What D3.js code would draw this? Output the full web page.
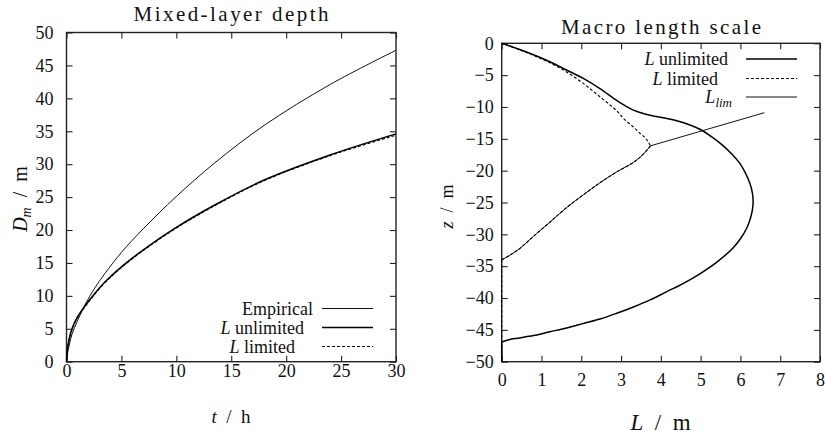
<!DOCTYPE html>
<html>
<head>
<meta charset="utf-8">
<script src="https://cdn.jsdelivr.net/npm/d3@7"></script>
<style>
  html, body { margin: 0; padding: 0; background: #fff; }
  svg { display: block; }
</style>
</head>
<body>
<svg id="chart" width="825" height="440"></svg>
<script>
// ---- Mixed-layer depth: time (h) and depth (m) ----
const hours        = [0, 0.1, 0.25, 0.5, 1, 1.7, 2.5, 3.5, 5, 7, 10, 13.5, 18, 24, 30];
const depthEmpir   = [0, 1.3, 2.5, 4.2, 6.2, 8.7, 11.0, 13.4, 16.6, 20.2, 25.1, 30.2, 35.9, 42.1, 47.3];
const depthUnlim   = [0, 2.0, 3.5, 5.0, 6.8, 8.5, 10.2, 12.1, 14.4, 17.0, 20.4, 23.8, 27.6, 31.4, 34.6];
const depthLimited = [0, 2.0, 3.4, 4.9, 6.7, 8.4, 10.1, 12.0, 14.3, 16.9, 20.3, 23.7, 27.5, 31.3, 34.4];
const depthTicksX  = [0, 5, 10, 15, 20, 25, 30];
const depthTicksY  = [0, 5, 10, 15, 20, 25, 30, 35, 40, 45, 50];

// ---- Macro length scale profiles: L (m) against z (m) ----
const unlimL = [0, 0.4, 0.8, 1.21, 1.63, 2.05, 2.47, 2.85, 3.1, 3.31, 3.6, 3.89, 4.15, 4.4, 4.7, 4.98, 5.28, 5.57, 5.8, 5.99,
                6.12, 6.24, 6.3, 6.32, 6.3, 6.25, 6.16, 6.0, 5.82, 5.4, 4.98, 4.57, 4.15, 3.73, 3.31, 2.89, 2.47, 2.05, 1.63,
                1.21, 0.8, 0.4, 0.2, 0, 0];
const unlimZ = [0, -0.85, -1.8, -2.9, -4.2, -5.5, -7.1, -8.8, -9.8, -10.5, -11.1, -11.5, -11.8, -12.15, -12.75, -13.5, -14.7,
                -16.1, -17.5, -18.9, -20.3, -22.0, -23.5, -24.8, -26.2, -27.5, -29.0, -30.7, -32.1, -34.4, -36.2, -37.7,
                -39.0, -40.3, -41.4, -42.4, -43.3, -44.0, -44.7, -45.3, -45.9, -46.3, -46.5, -46.9, -50];

const limitedL = [0, 0.4, 0.8, 1.21, 1.63, 2.05, 2.47, 2.89, 3.06, 3.3, 3.47, 3.6, 3.68, 3.74,
                  3.56, 3.31, 2.89, 2.47, 2.05, 1.63, 1.21, 0.8, 0.46, 0.2, 0, 0];
const limitedZ = [0, -0.9, -1.9, -3.05, -4.5, -6.3, -8.4, -10.6, -11.8, -13.1, -14.1, -14.8, -15.45, -16.1,
                  -17.4, -18.7, -20.2, -21.9, -23.8, -25.8, -28.1, -30.3, -32.2, -33.3, -34.0, -50];
const limitedBreaks = [13, 24];   // cusp and the foot of the profile

const limL = [0, 0.2, 0.46, 0.8, 1.21, 1.63, 2.05, 2.47, 2.89, 3.31, 3.56, 3.74, 6.6];
const limZ = [-34.0, -33.3, -32.2, -30.3, -28.1, -25.8, -23.8, -21.9, -20.2, -18.7, -17.4, -16.1, -10.9];
const limBreaks = [11];

const lengthTicksX = [0, 1, 2, 3, 4, 5, 6, 7, 8];
const lengthTicksY = [0, -5, -10, -15, -20, -25, -30, -35, -40, -45, -50];

const FONT = "Liberation Serif";
const svg = d3.select("#chart");

// scales
const xD = d3.scaleLinear().domain([0, 30]).range([66.5, 396]);
const yD = d3.scaleLinear().domain([0, 50]).range([361.7, 32.5]);
const xM = d3.scaleLinear().domain([0, 8]).range([501.7, 820]);
const yM = d3.scaleLinear().domain([-50, 0]).range([361.7, 43.3]);

function frame(x, y, tx, ty, padX, padY) {
  const g = svg.append("g");
  const [x0, x1] = x.range(), [y0, y1] = y.range();
  const inner = -6;
  g.append("g").attr("transform", `translate(0,${y0})`)
    .call(d3.axisBottom(x).tickValues(tx).tickSizeInner(inner).tickSizeOuter(0).tickPadding(padX));
  g.append("g").attr("transform", `translate(0,${y1})`)
    .call(d3.axisTop(x).tickValues(tx).tickSizeInner(inner).tickSizeOuter(0).tickFormat(""));
  g.append("g").attr("transform", `translate(${x0},0)`)
    .call(d3.axisLeft(y).tickValues(ty).tickSizeInner(inner).tickSizeOuter(0).tickPadding(padY));
  g.append("g").attr("transform", `translate(${x1},0)`)
    .call(d3.axisRight(y).tickValues(ty).tickSizeInner(inner).tickSizeOuter(0).tickFormat(""));
  g.selectAll("g").attr("font-family", null).attr("font-size", null);
  g.selectAll(".domain").remove();
  g.selectAll(".tick line").attr("stroke", "#222").attr("stroke-width", 1.1);
  g.selectAll(".tick text").style("font-family", FONT).style("font-size", "18px").attr("fill", "#111");
  g.append("rect")
    .attr("x", x0).attr("y", y1).attr("width", x1 - x0).attr("height", y0 - y1)
    .attr("fill", "none").attr("stroke", "#222").attr("stroke-width", 1.4);
}

frame(xD, yD, depthTicksX, depthTicksY, 2.5, 13);
frame(xM, yM, lengthTicksX, lengthTicksY, 12, 8);

const styles = {
  empir:   { stroke: "#111", width: 1.0, dash: null },
  unlim:   { stroke: "#000", width: 1.5, dash: null },
  limited: { stroke: "#000", width: 1.1, dash: "3,2" },
  lim:     { stroke: "#111", width: 1.0, dash: null }
};
function styled(sel, s) {
  return sel.attr("fill", "none").attr("stroke", s.stroke).attr("stroke-width", s.width)
    .attr("stroke-dasharray", s.dash);
}

// ---- left panel curves ----
const lineD = d3.line().x(d => xD(d[0])).y(d => yD(d[1])).curve(d3.curveCatmullRom.alpha(0.5));
const series = vals => hours.map((t, i) => [t, vals[i]]);

styled(svg.append("path").attr("d", lineD(series(depthEmpir))), styles.empir);
styled(svg.append("path").attr("d", lineD(series(depthUnlim))), styles.unlim);
styled(svg.append("path").attr("d", lineD(series(depthLimited))), styles.limited);

// ---- right panel curves ----
const lineM = d3.line().x(d => xM(d[0])).y(d => yM(d[1])).curve(d3.curveCatmullRom.alpha(0.5));
function pieces(Ls, Zs, breaks) {
  const pts = Ls.map((l, i) => [l, Zs[i]]);
  const cuts = [0, ...breaks, pts.length - 1];
  const out = [];
  for (let k = 0; k < cuts.length - 1; k++) out.push(pts.slice(cuts[k], cuts[k + 1] + 1));
  return out;
}
function drawPieces(Ls, Zs, breaks, s) {
  pieces(Ls, Zs, breaks).forEach(p => styled(svg.append("path").attr("d", lineM(p)), s));
}
drawPieces(limL, limZ, limBreaks, styles.lim);
drawPieces(unlimL, unlimZ, [43], styles.unlim);
drawPieces(limitedL, limitedZ, limitedBreaks, styles.limited);

// ---- titles and axis labels ----
function mathLabel(parts, attrs, size) {
  const t = svg.append("text").attr("xml:space", "preserve")
    .style("font-family", FONT).style("font-size", size + "px").attr("fill", "#111");
  Object.entries(attrs).forEach(([k, v]) => t.attr(k, v));
  parts.forEach(p => {
    const ts = t.append("tspan").text(p.t);
    if (p.it) ts.style("font-style", "italic");
    if (p.sub) ts.style("font-size", Math.round(size * 0.7) + "px").attr("dy", 4);
    else if (p.afterSub) ts.attr("dy", -4);
  });
  return t;
}

mathLabel([{ t: "Mixed-layer depth" }],
  { x: 231, y: 21, "text-anchor": "middle", textLength: 195, lengthAdjust: "spacing" }, 21);
mathLabel([{ t: "Macro length scale" }],
  { x: 661, y: 34, "text-anchor": "middle", textLength: 200, lengthAdjust: "spacing" }, 21);

mathLabel([{ t: "t", it: true }, { t: "  /  h" }],
  { x: 231, y: 423, "text-anchor": "middle" }, 19);
mathLabel([{ t: "D", it: true }, { t: "m", it: true, sub: true }, { t: "  /  m", afterSub: true }],
  { transform: "translate(27,199) rotate(-90)", "text-anchor": "middle" }, 20);
mathLabel([{ t: "L", it: true }, { t: "  /  m" }],
  { x: 660.5, y: 430, "text-anchor": "middle" }, 23);
mathLabel([{ t: "z", it: true }, { t: "  /  m" }],
  { transform: "translate(453,206.5) rotate(-90)", "text-anchor": "middle" }, 18);

// ---- legends ----
function legendRow(parts, textRight, lineX0, lineX1, y, s) {
  mathLabel(parts, { x: textRight, y: y + 6, "text-anchor": "end" }, 18);
  styled(svg.append("line").attr("x1", lineX0).attr("x2", lineX1).attr("y1", y).attr("y2", y), s);
}
legendRow([{ t: "Empirical" }], 313, 322, 373, 308.5, styles.empir);
legendRow([{ t: "L", it: true }, { t: " unlimited" }], 304, 322, 373, 327.5, styles.unlim);
legendRow([{ t: "L", it: true }, { t: " limited" }], 295, 322, 373, 346.5, styles.limited);

legendRow([{ t: "L", it: true }, { t: " unlimited" }], 728, 746, 797, 59, styles.unlim);
legendRow([{ t: "L", it: true }, { t: " limited" }], 718, 746, 797, 78.5, styles.limited);
legendRow([{ t: "L", it: true }, { t: "lim", it: true, sub: true }], 732, 746, 797, 97, styles.lim);
</script>
</body>
</html>
